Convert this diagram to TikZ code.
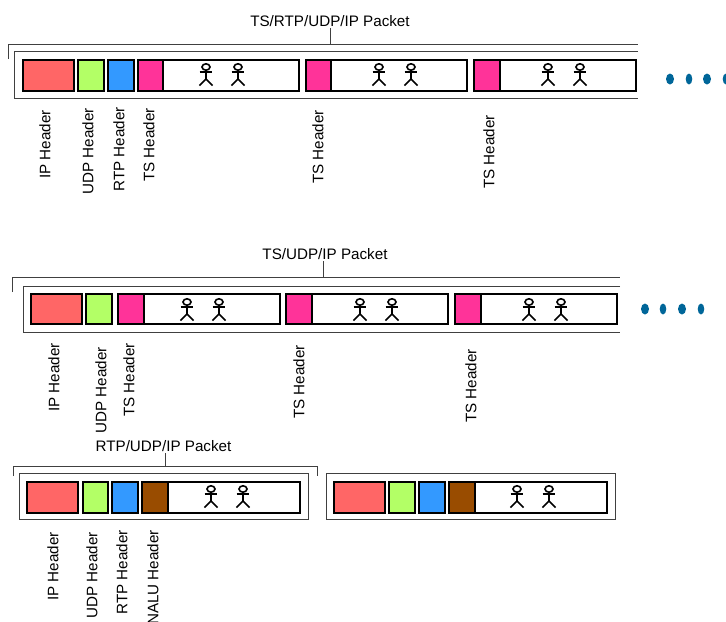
\documentclass[tikz,border=0pt]{standalone}
\usepackage{fontspec}
\setmainfont{Liberation Sans}
\usetikzlibrary{calc}
\definecolor{ipred}{HTML}{FF6666}
\definecolor{udpgreen}{HTML}{B3FF66}
\definecolor{rtpblue}{HTML}{3399FF}
\definecolor{tspink}{HTML}{FF3399}
\definecolor{nalubrown}{HTML}{994C00}
\definecolor{dotblue}{HTML}{006699}
\definecolor{framegray}{HTML}{404040}

\begin{document}
\begin{tikzpicture}[x = 0.75pt, y = -0.75pt, font = \fontsize{11.4}{13}\selectfont,
  field/.style = {draw, line width = 1.3pt},
  frameline/.style = {draw, framegray, line width = 0.7pt},
  title/.style = {inner sep = 1pt},
  vlabel/.style = {rotate = 90, anchor = east, inner sep = 0pt},
  dot/.style = {fill = dotblue},
  stick/.pic = {
    \path[draw, line width = 1.2pt](0,7)ellipse(4 and 3.2);
    \path[draw, line width = 1.2pt](-6.3,11.7)to(6.3,11.7);
    \path[draw, line width = 1.2pt](0,10.2)to(0,19);
    \path[draw, line width = 1.2pt](-6.5,25.5)to(0,19)to(6.5,25.5);
  }]
\useasboundingbox(0,0)rectangle(726,622);

% first packet
\node[title](title1)at(330,21){TS/RTP/UDP/IP Packet};
\coordinate(b1)at(330,44);
\coordinate(b1l)at(8,59);
\coordinate(b1r)at(638,44);
\path[frameline](b1l)|-(b1r);
\path[frameline](title1.south)to(b1);
\path[frameline](638,51)to(14,51)to(14,98)to(638,98);
\path[field, fill = ipred](23,60)rectangle(74,91);
\path[field, fill = udpgreen](78,60)rectangle(104,91);
\path[field, fill = rtpblue](108,60)rectangle(134,91);
\path[field, fill = tspink](138,60)rectangle(163,91);
\path[field](163,60)rectangle(299,91);
\path[field, fill = tspink](306,60)rectangle(331,91);
\path[field](331,60)rectangle(467,91);
\path[field, fill = tspink](474,60)rectangle(500,91);
\path[field](500,60)rectangle(636,91);
\pic at(206,60){stick};
\pic at(238,60){stick};
\pic at(379,60){stick};
\pic at(411,60){stick};
\pic at(548,60){stick};
\pic at(580,60){stick};
\node[vlabel](ip1)at(45,110){IP Header};
\node[vlabel](udp1)at(88,108){UDP Header};
\node[vlabel](rtp1)at(119,107){RTP Header};
\node[vlabel](ts1)at(149,108){TS Header};
\node[vlabel](ts2)at(318,110){TS Header};
\node[vlabel](ts3)at(489,115){TS Header};
\path[dot](670,79)ellipse(4 and 5.5);
\path[dot](689,79)ellipse(3.3 and 5.5);
\path[dot](707,79)ellipse(4 and 5.5);
\path[dot](726,79)ellipse(3.3 and 5.5);

% second packet
\node[title](title2)at(325,254){TS/UDP/IP Packet};
\coordinate(b2)at(323,277);
\coordinate(b2l)at(12,292);
\coordinate(b2r)at(620,277);
\path[frameline](b2l)|-(b2r);
\path[frameline](b2 |- title2.south)to(b2);
\path[frameline](620,286)to(23,286)to(23,332)to(620,332);
\path[field, fill = ipred](31,294)rectangle(82,324);
\path[field, fill = udpgreen](86,294)rectangle(112,324);
\path[field, fill = tspink](118,294)rectangle(144,324);
\path[field](144,294)rectangle(280,324);
\path[field, fill = tspink](286,294)rectangle(312,324);
\path[field](312,294)rectangle(448,324);
\path[field, fill = tspink](455,294)rectangle(481,324);
\path[field](481,294)rectangle(617,324);
\pic at(187,295){stick};
\pic at(219,295){stick};
\pic at(360,295){stick};
\pic at(392,295){stick};
\pic at(529,295){stick};
\pic at(561,295){stick};
\node[vlabel](ip2)at(54,343){IP Header};
\node[vlabel](udp2)at(101,347){UDP Header};
\node[vlabel](ts4)at(129,343){TS Header};
\node[vlabel](ts5)at(299,345){TS Header};
\node[vlabel](ts6)at(471,349){TS Header};
\path[dot](645,309)ellipse(4 and 5.5);
\path[dot](663,309)ellipse(3.3 and 5.5);
\path[dot](682,309)ellipse(4 and 5.5);
\path[dot](701,309)ellipse(3.3 and 5.5);

% third packet
\node[title](title3)at(163.5,446){RTP/UDP/IP Packet};
\coordinate(b3)at(165,466);
\path[frameline](13,476)to(13,466)to(317,466)to(317,476);
\path[frameline](b3 |- title3.south)to(b3);
\path[frameline](19,473)rectangle(308,519);
\path[field, fill = ipred](27,482)rectangle(78,513);
\path[field, fill = udpgreen](83,482)rectangle(108,513);
\path[field, fill = rtpblue](112,482)rectangle(138,513);
\path[field, fill = nalubrown](142,482)rectangle(168,513);
\path[field](168,482)rectangle(300,513);
\pic at(211,482){stick};
\pic at(243,482){stick};
\node[vlabel](ip3)at(53,532){IP Header};
\node[vlabel](udp3)at(92,532){UDP Header};
\node[vlabel](rtp3)at(122,530){RTP Header};
\node[vlabel](nalu3)at(153,530){NALU Header};

% next packet
\path[frameline](326,473)rectangle(615,519);
\path[field, fill = ipred](334,482)rectangle(385,513);
\path[field, fill = udpgreen](389,482)rectangle(415,513);
\path[field, fill = rtpblue](419,482)rectangle(445,513);
\path[field, fill = nalubrown](449,482)rectangle(475,513);
\path[field](475,482)rectangle(607,513);
\pic at(517,482){stick};
\pic at(549,482){stick};
\end{tikzpicture}
\end{document}
